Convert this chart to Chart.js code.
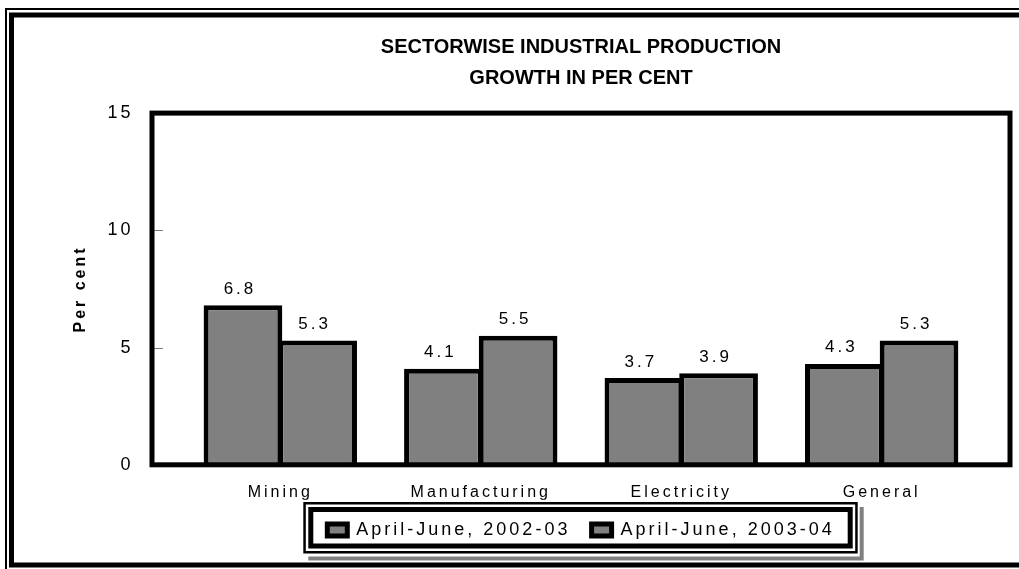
<!DOCTYPE html>
<html>
<head>
<meta charset="utf-8">
<title>Sectorwise industrial production</title>
<script src="https://cdn.jsdelivr.net/npm/chart.js@4.4.1/dist/chart.umd.min.js"></script>
<style>
  html, body { margin: 0; padding: 0; background: #fff; }
  canvas { display: block; }
</style>
</head>
<body>
<canvas id="myChart" width="1019" height="569"></canvas>
<script>
// data
const sectors = ["Mining", "Manufacturing", "Electricity", "General"];
const growth0203 = [6.8, 4.1, 3.7, 4.3];
const growth0304 = [5.3, 5.5, 3.9, 5.3];
const seriesNames = ["April-June, 2002-03", "April-June, 2003-04"];
const yTicks = [0, 5, 10, 15];

const FONT = '"Liberation Sans", Arial, sans-serif';
const SPACING = "3px";

Chart.defaults.font.family = FONT;
Chart.defaults.color = "#000";

function toPoints(values) {
  return values.map((v, i) => ({ x: i + 1, y: v }));
}

// the old chart has spaced out letters everywhere except the title
const TitleBox = Chart.Title._element;
const letterSpacing = {
  id: "letterSpacing",
  beforeLayout(chart) {
    chart.ctx.letterSpacing = SPACING;
  },
  afterLayout(chart) {
    chart.boxes.forEach((box) => {
      if (box instanceof TitleBox && !box.plainDraw) {
        box.plainDraw = box.draw;
        box.draw = function (area) {
          const c = this.ctx;
          const old = c.letterSpacing;
          c.letterSpacing = "0px";
          this.plainDraw(area);
          c.letterSpacing = old;
        };
      }
    });
  },
  beforeDraw(chart) {
    chart.ctx.letterSpacing = SPACING;
  },
};

function line(c, pts) {
  c.beginPath();
  c.moveTo(pts[0], pts[1]);
  for (let i = 2; i < pts.length; i += 2) c.lineTo(pts[i], pts[i + 1]);
  c.stroke();
}

const frames = {
  id: "frames",
  beforeDraw(chart) {
    const c = chart.ctx;
    c.save();
    c.strokeStyle = "#000";
    // page border, thin outside and thick inside
    c.lineWidth = 2;
    line(c, [6, 569, 6, 9, 1019, 9]);
    c.lineWidth = 5;
    line(c, [11.5, 565, 11.5, 15, 1019, 15]);
    line(c, [9, 565, 1019, 565]);

    // legend box with its shadow
    const hb = chart.legend.legendHitBoxes;
    if (hb && hb.length) {
      const first = hb[0];
      const last = hb[hb.length - 1];
      const L = first.left - 24;
      const R = last.left + last.width + 23;
      const T = first.top - 19;
      const B = first.top + first.height + 14.5;
      c.strokeStyle = "#808080";
      c.lineWidth = 4;
      line(c, [L + 5, B + 5, R + 4, B + 5, R + 4, T + 5]);
      c.strokeStyle = "#000";
      c.lineWidth = 2.5;
      c.strokeRect(L + 1.25, T + 1.25, R - L - 2.5, B - T - 2.5);
      c.lineWidth = 5;
      c.strokeRect(L + 7.5, T + 7.5, R - L - 15, B - T - 15);
    }
    c.restore();
  },
  afterDatasetsDraw(chart) {
    const { ctx: c, chartArea: a } = chart;
    const y = chart.scales.y;
    c.save();
    c.strokeStyle = "#808080";
    c.lineWidth = 1;
    yTicks.forEach((v) => {
      const py = Math.round(y.getPixelForValue(v)) + 0.5;
      line(c, [a.left, py, a.left + 11, py]);
    });
    c.strokeStyle = "#000";
    c.lineWidth = 5;
    c.strokeRect(a.left, a.top, a.right - a.left, a.bottom - a.top);
    c.restore();
  },
};

const barValues = {
  id: "barValues",
  afterDatasetsDraw(chart) {
    const c = chart.ctx;
    c.save();
    c.font = "17px " + FONT;
    c.fillStyle = "#000";
    c.textAlign = "center";
    c.textBaseline = "alphabetic";
    chart.data.datasets.forEach((ds, i) => {
      chart.getDatasetMeta(i).data.forEach((bar, j) => {
        c.fillText(ds.data[j].y.toFixed(1), bar.x - 3, bar.y - 11.5);
      });
    });
    c.restore();
  },
};

function createChart() {
  const ctx = document.getElementById("myChart");
  const barStyle = {
    backgroundColor: "#808080",
    borderColor: "#000",
    borderWidth: 5,
    categoryPercentage: 0.745,
    barPercentage: 1.054,
  };

  new Chart(ctx, {
    type: "bar",
    data: {
      datasets: [
        { label: seriesNames[0], data: toPoints(growth0203), ...barStyle },
        { label: seriesNames[1], data: toPoints(growth0304), ...barStyle },
      ],
    },
    options: {
      responsive: false,
      animation: false,
      layout: { padding: { top: 20, right: 9, bottom: 20, left: 0 } },
      scales: {
        x: {
          type: "linear",
          min: 0.36,
          max: 4.64,
          offset: false,
          grid: { display: false, drawTicks: false, offset: false },
          border: { display: false },
          afterBuildTicks: (s) => {
            s.ticks = sectors.map((name, i) => ({ value: i + 1 }));
          },
          afterFit: (s) => {
            s.height = 35;
          },
          ticks: {
            font: { size: 16 },
            padding: 18,
            maxRotation: 0,
            callback: (v) => sectors[v - 1] || "",
          },
        },
        y: {
          min: 0,
          max: 15,
          grid: { display: false, drawTicks: false },
          border: { display: false },
          afterBuildTicks: (s) => {
            s.ticks = yTicks.map((v) => ({ value: v }));
          },
          afterFit: (s) => {
            s.width = 152;
          },
          ticks: { font: { size: 18 }, padding: 18.5 },
          title: {
            display: true,
            text: "Per cent",
            font: { size: 16, weight: "bold" },
            padding: { top: 71.4, bottom: 0 },
          },
        },
      },
      plugins: {
        title: {
          display: true,
          text: "SECTORWISE INDUSTRIAL PRODUCTION",
          fullSize: false,
          color: "#000",
          font: { size: 20, weight: "bold" },
          padding: { top: 15.5, bottom: 0 },
        },
        subtitle: {
          display: true,
          text: "GROWTH IN PER CENT",
          fullSize: false,
          color: "#000",
          font: { size: 20, weight: "bold" },
          padding: { top: 7, bottom: 22.6 },
        },
        legend: {
          position: "bottom",
          fullSize: false,
          labels: {
            color: "#000",
            font: { size: 18 },
            boxWidth: 20,
            boxHeight: 12,
            padding: 21.2,
          },
        },
        tooltip: { enabled: false },
      },
    },
    plugins: [letterSpacing, frames, barValues],
  });
}

window.addEventListener("load", function () {
  createChart();
});
</script>
</body>
</html>
